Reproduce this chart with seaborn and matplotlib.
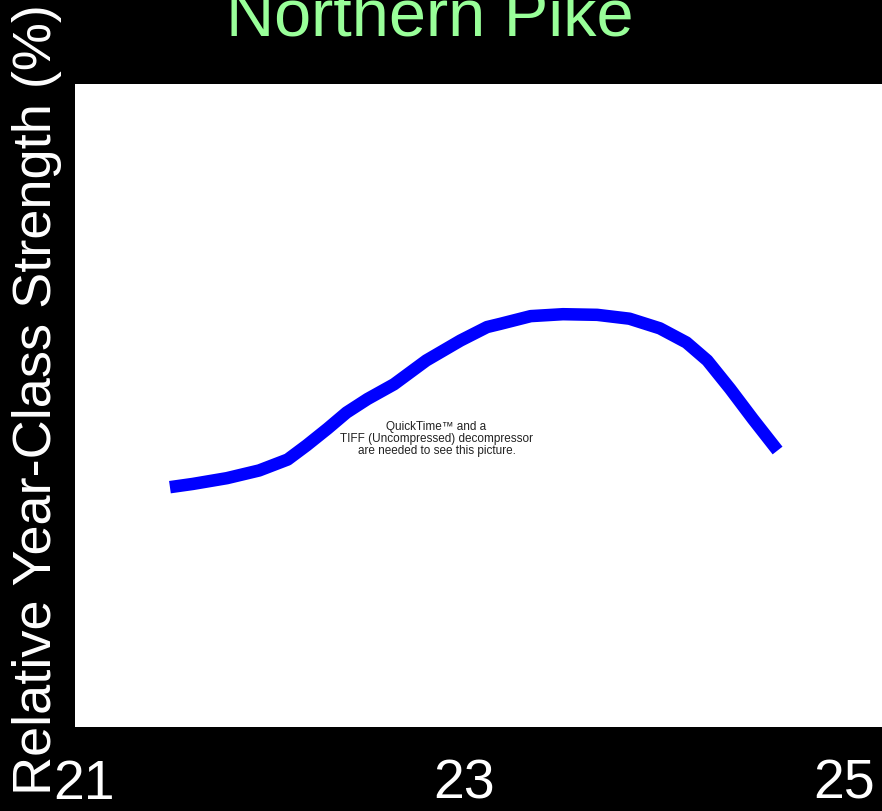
import numpy as np
import pandas as pd
import seaborn as sns
import matplotlib.pyplot as plt

# temperature (x) vs relative year-class strength (%)
temperature = [21.45, 21.57, 21.75, 21.92, 22.07, 22.17, 22.28, 22.38,
               22.49, 22.63, 22.80, 22.98, 23.12, 23.19, 23.35, 23.52,
               23.70, 23.87, 24.03, 24.17, 24.28, 24.40, 24.52, 24.65]
strength = [37.3, 37.8, 38.7, 39.9, 41.6, 43.8, 46.4, 48.9,
            51.0, 53.3, 57.0, 60.1, 62.2, 62.7, 63.9, 64.2,
            64.1, 63.5, 62.0, 59.8, 57.0, 52.6, 47.9, 43.0]
x_ticks = [21, 23, 25]
title = "Northern Pike"
y_label = "Relative Year-Class Strength (%)"
qt_note = "QuickTime\u2122 and a\nTIFF (Uncompressed) decompressor\nare needed to see this picture."

regular = ["Liberation Sans", "DejaVu Sans"]

df = pd.DataFrame({"temp": temperature, "ycs": strength})

fig = plt.figure(figsize=(8.82, 8.12), dpi=100, facecolor="black")
ax = fig.add_axes([75 / 882, 84 / 812, 807 / 882, 643 / 812])
ax.set_facecolor("white")

sns.lineplot(data=df, x="temp", y="ycs", color="#0000ff", linewidth=9,
             solid_capstyle="butt", solid_joinstyle="round", ax=ax)

ax.set_xlim(20.95, 25.2)
ax.set_ylim(0, 100)
ax.set_xticks(x_ticks)
ax.set_xticklabels([str(t) for t in x_ticks], family=regular, fontsize=40,
                   color="white")
ax.tick_params(axis="x", length=0, pad=22)
ax.set_yticks([])
ax.set_xlabel("")
ax.set_ylabel("")
for s in ax.spines.values():
    s.set_visible(False)

ax.text(0.448, 0.45, qt_note, transform=ax.transAxes, ha="center",
        va="center", fontsize=8.5, color="#222222", family=regular,
        linespacing=1.0)

fig.text(430 / 882, 1 - 36 / 812, title, ha="center", va="baseline",
         fontsize=48, color="#99ff99", family=regular)
fig.text(37 / 882, 1 - 400 / 812, y_label, rotation=90, ha="center",
         va="center", fontsize=39, color="white", family=regular)

fig.savefig("out.png", dpi=100, facecolor="black")
